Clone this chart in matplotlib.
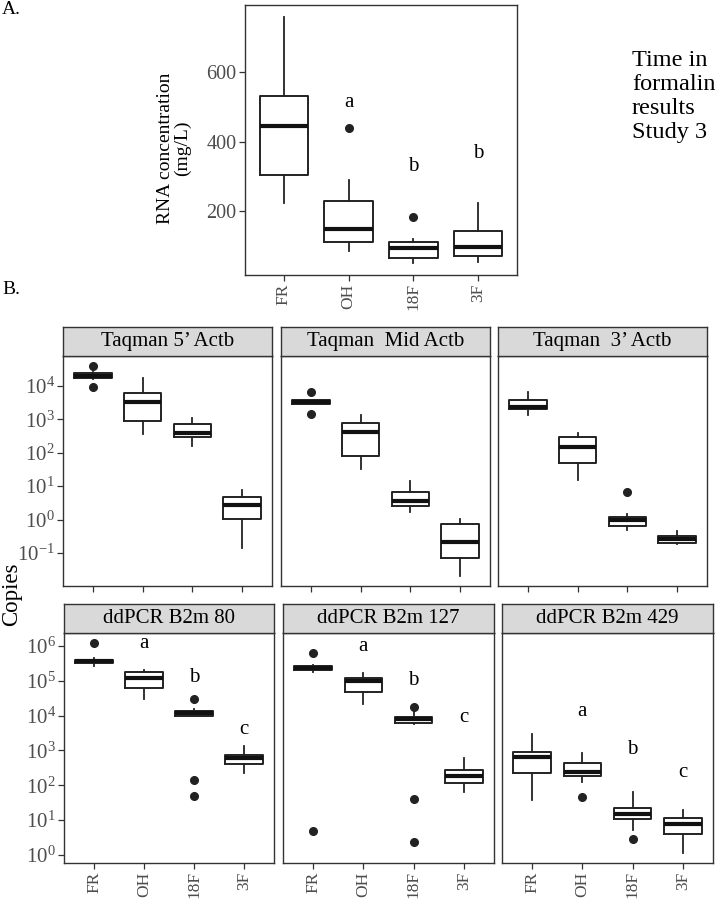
import numpy as np
import matplotlib.pyplot as plt
from matplotlib.ticker import FixedLocator, LogFormatterSciNotation, NullLocator

plt.rcParams['font.family'] = ['Liberation Serif', 'DejaVu Serif']
plt.rcParams['mathtext.fontset'] = 'stix'

W, H = 717, 900

groups = ['FR', 'OH', '18F', '3F']

# panel A: RNA concentration (mg/L)
rna_lo = [225, 86, 52, 55]
rna_q1 = [305, 112, 66, 72]
rna_med = [446, 150, 95, 98]
rna_q3 = [532, 230, 112, 144]
rna_hi = [760, 291, 121, 224]
rna_out = [[], [440], [184], []]
rna_letters = ['', 'a', 'b', 'b']
rna_letter_y = [np.nan, 512, 328, 368]

# panel B: copies per assay
titles = ['Taqman 5’ Actb', 'Taqman  Mid Actb', 'Taqman  3’ Actb',
          'ddPCR B2m 80', 'ddPCR B2m 127', 'ddPCR B2m 429']
cp_lo = [[1.6e4, 360, 160, 0.14],
         [2800, 32, 1.7, 0.021],
         [1400, 15, 0.50, 0.18],
         [2.7e5, 3.0e4, 9.5e3, 220],
         [1.8e5, 2.1e4, 5600, 65],
         [39, 126, 5.1, 1.17]]
cp_q1 = [[1.7e4, 910, 295, 1.02],
         [2800, 79, 2.6, 0.072],
         [2000, 51, 0.65, 0.20],
         [3.2e5, 6.0e4, 1.0e4, 420],
         [2.0e5, 4.6e4, 6300, 117],
         [220, 190, 10.5, 3.9]]
cp_med = [[2.0e4, 3300, 380, 2.7],
          [3300, 420, 3.7, 0.22],
          [2400, 145, 0.98, 0.26],
          [3.6e5, 1.2e5, 1.17e4, 590],
          [2.3e5, 1.0e5, 7900, 180],
          [630, 245, 15.5, 7.6]]
cp_q3 = [[2.4e4, 6000, 720, 4.7],
         [3800, 790, 6.8, 0.74],
         [3800, 290, 1.17, 0.33],
         [4.0e5, 1.8e5, 1.35e4, 720],
         [2.6e5, 1.17e5, 9300, 275],
         [910, 430, 23, 11.7]]
cp_hi = [[2.6e4, 1.7e4, 1120, 7.8],
         [3800, 1400, 14, 1.02],
         [6800, 400, 1.48, 0.47],
         [4.6e5, 2.0e5, 1.5e4, 1350],
         [2.8e5, 1.66e5, 1.6e4, 590],
         [2950, 830, 65, 20]]
cp_out = [[[3.9e4, 9.1e3], [], [], []],
          [[6800, 1500], [], [], []],
          [[], [], [6.8], []],
          [[1.2e6], [], [3.0e4, 140, 49], []],
          [[6.2e5, 4.9], [], [1.8e4, 40, 2.3], []],
          [[], [47], [2.8], []]]
cp_letters = ['', 'a', 'b', 'c']
cp_letter_y = [None, None, None,
               [np.nan, 1.15e6, 1.2e5, 4100],
               [np.nan, 9.5e5, 1.0e5, 8900],
               [np.nan, 1.3e4, 1070, 234]]
row1_ticks = [1e-1, 1e0, 1e1, 1e2, 1e3, 1e4]
row2_ticks = [1e0, 1e1, 1e2, 1e3, 1e4, 1e5, 1e6]


def rect(l, t, r, b):
    return [l / W, 1 - b / H, (r - l) / W, (b - t) / H]


def draw_boxes(ax, lo, q1, med, q3, hi, out):
    stats = []
    for i in range(4):
        stats.append(dict(whislo=lo[i], q1=q1[i], med=med[i], q3=q3[i],
                          whishi=hi[i], fliers=out[i]))
    ax.bxp(stats, positions=[1, 2, 3, 4], widths=0.75, showcaps=False,
           boxprops=dict(color='#222222', lw=1.4),
           whiskerprops=dict(color='#222222', lw=1.3),
           medianprops=dict(color='#111111', lw=3.0),
           flierprops=dict(marker='o', markerfacecolor='#222222',
                           markeredgecolor='#222222', markersize=5.5))
    ax.set_xlim(0.4, 4.6)
    for s in ax.spines.values():
        s.set_color('#333333')
        s.set_linewidth(1.0)
    ax.tick_params(length=4, width=0.9, color='#333333', labelcolor='#4d4d4d')


fig = plt.figure(figsize=(W / 100, H / 100), dpi=100)

# ---- A ----
axA = fig.add_axes(rect(245, 5, 517, 275))
draw_boxes(axA, rna_lo, rna_q1, rna_med, rna_q3, rna_hi, rna_out)
axA.set_ylim(17, 794)
axA.set_yticks([200, 400, 600])
axA.set_xticks([1, 2, 3, 4])
axA.set_xticklabels(groups, rotation=90)
axA.tick_params(axis='y', labelsize=14.5, pad=2)
axA.tick_params(axis='x', labelsize=12.5, pad=2)
for i in range(4):
    if rna_letters[i]:
        axA.text(i + 1, rna_letter_y[i], rna_letters[i], ha='center',
                 va='center', fontsize=15)
fig.text(174 / W, 1 - 148 / H, 'RNA concentration\n(mg/L)', rotation=90,
         ha='center', va='center', fontsize=14, linespacing=1.05)
fig.text(632 / W, 1 - 50 / H, 'Time in\nformalin\nresults\nStudy 3',
         ha='left', va='top', fontsize=17.5, linespacing=1.18)
fig.text(2 / W, 1 - 9 / H, 'A.', ha='left', va='center', fontsize=14)
fig.text(2 / W, 1 - 290 / H, 'B.', ha='left', va='center', fontsize=14)

# ---- B ----
cols1 = [(63, 272), (281, 490), (498, 707)]
cols2 = [(64, 274), (283, 494), (502, 713)]
for k in range(6):
    row = k // 3
    c = k % 3
    l, r = (cols1 if row == 0 else cols2)[c]
    st, pt, pb = (327, 356, 586) if row == 0 else (604, 633, 863)
    ax = fig.add_axes(rect(l, pt, r, pb))
    ax.set_yscale('log')
    draw_boxes(ax, cp_lo[k], cp_q1[k], cp_med[k], cp_q3[k], cp_hi[k], cp_out[k])
    if row == 0:
        ax.set_ylim(10 ** -1.99, 10 ** 4.9)
        ax.yaxis.set_major_locator(FixedLocator(row1_ticks))
    else:
        ax.set_ylim(10 ** -0.23, 10 ** 6.37)
        ax.yaxis.set_major_locator(FixedLocator(row2_ticks))
    ax.yaxis.set_major_formatter(LogFormatterSciNotation())
    ax.yaxis.set_minor_locator(NullLocator())
    ax.set_xticks([1, 2, 3, 4])
    if row == 0:
        ax.set_xticklabels([])
    else:
        ax.set_xticklabels(groups, rotation=90)
    ax.tick_params(axis='y', labelsize=15, pad=2)
    ax.tick_params(axis='x', labelsize=12.5, pad=2)
    if c > 0:
        ax.tick_params(axis='y', left=False, labelleft=False)
    if cp_letter_y[k] is not None:
        for i in range(4):
            if cp_letters[i]:
                ax.text(i + 1, cp_letter_y[k][i], cp_letters[i], ha='center',
                        va='center', fontsize=15)
    # strip
    sax = fig.add_axes(rect(l, st, r, pt))
    sax.set_facecolor('#d9d9d9')
    sax.set_xticks([])
    sax.set_yticks([])
    for s in sax.spines.values():
        s.set_color('#333333')
        s.set_linewidth(1.0)
    sax.text(0.5, 0.5, titles[k], ha='center', va='center', fontsize=15,
             transform=sax.transAxes)

fig.text(12 / W, 1 - 594 / H, 'Copies', rotation=90, ha='center',
         va='center', fontsize=16.5)

fig.savefig('out.png', dpi=100)
